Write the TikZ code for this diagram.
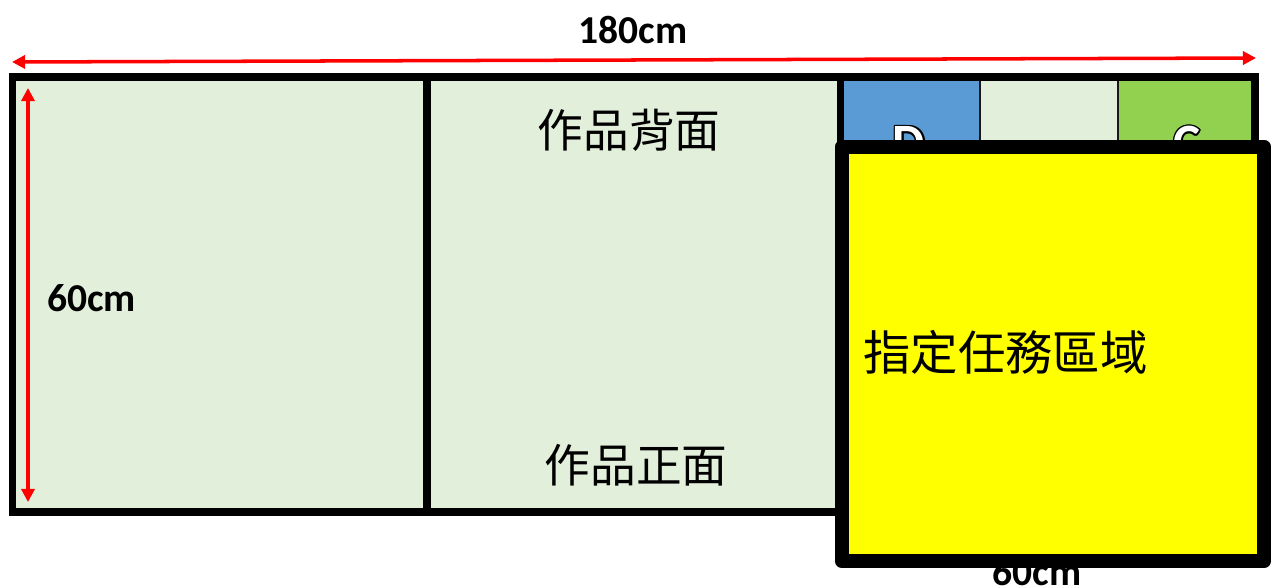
\documentclass[tikz,border=0pt]{standalone}
\usepackage{fontspec}
\setmainfont{Carlito}
\newfontfamily\cjk{Noto Sans CJK TC}
\usetikzlibrary{arrows.meta}
\definecolor{panelgreen}{HTML}{E2EFDA}
\definecolor{boxblue}{HTML}{5B9BD5}
\definecolor{boxgreen}{HTML}{92D050}
\definecolor{dimred}{RGB}{255,0,0}
\definecolor{taskyellow}{RGB}{255,255,0}
\begin{document}
\begin{tikzpicture}[x=0.02cm,y=-0.02cm,
  panel/.style={draw=black,line width=4pt},
  smallbox/.style={draw=black!90,line width=1.6pt},
  dim/.style={draw=dimred,line width=2pt,{Triangle[length=7.5pt,width=7.5pt]}-{Triangle[length=7.5pt,width=7.5pt]}},
  dimlabel/.style={font=\bfseries\fontsize{22.5}{24}\selectfont},
  cjklabel/.style={font=\cjk\fontsize{26}{28}\selectfont},
  letter/.style={font=\bfseries\fontsize{29}{30}\selectfont,anchor=base}]
\useasboundingbox (0,0) rectangle (1272,588);
\fill[white] (0,0) rectangle (1272,588);
% hidden bottom label
\node[dimlabel,anchor=base] (w60) at (1037,585) {60cm};
% main panels
\fill[panelgreen] (12.5,77) rectangle (1255,512);
% small boxes
\draw[smallbox,fill=boxblue] (841,79) rectangle (980,320);
\draw[smallbox,fill=panelgreen] (980,79) rectangle (1118,320);
\draw[smallbox,fill=boxgreen] (1118,79) rectangle (1255,320);
% outlined letters
\foreach \dx/\dy in {-1.5/0,1.5/0,0/-1.5,0/1.5,-1.1/-1.1,1.1/1.1,-1.1/1.1,1.1/-1.1}{
  \node[letter,text=black] at (909+\dx,160+\dy) {D};
  \node[letter,text=black] at (1187+\dx,160+\dy) {C};
}
\node[letter,text=white] (ld) at (909,160) {D};
\node[letter,text=white] (lc) at (1187,160) {C};
% outer frame and dividers
\draw[panel] (12.5,77) rectangle (1255,512);
\draw[line width=4pt] (427,77) -- (427,512);
\draw[line width=4pt] (840.5,77) -- (840.5,512);
% panel texts
\node[cjklabel] (back) at (629,130) {作品背面};
\node[cjklabel] (front) at (636,465) {作品正面};
% dimensions
\coordinate (hl) at (12,62);
\coordinate (hr) at (1256,58);
\draw[dim] (hl) -- (hr);
\node[dimlabel] (w180) at (633,30) {180cm};
\coordinate (vt) at (28,88);
\coordinate (vb) at (28,502);
\draw[dim] (vt) -- (vb);
\node[dimlabel,anchor=west] (h60) at (41,298) {60cm};
% task area
\draw[fill=taskyellow,draw=black,line width=8.5pt,line join=round] (842,147) rectangle (1264,561);
\node[cjklabel,font=\cjk\fontsize{27}{29}\selectfont,anchor=west] (task) at (857,352) {指定任務區域};
\end{tikzpicture}
\end{document}
